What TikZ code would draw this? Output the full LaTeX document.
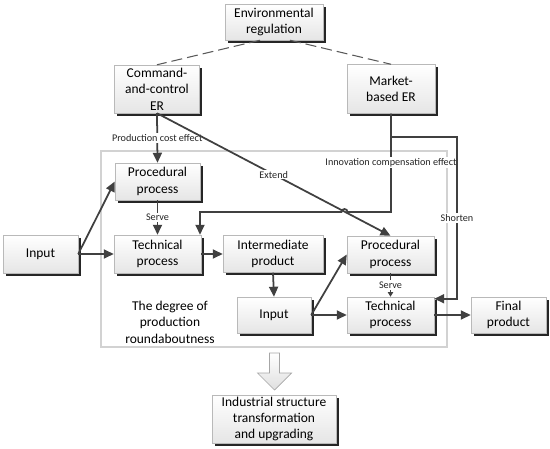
\documentclass[tikz,border=0pt]{standalone}
\usepackage{fontspec}
\setmainfont{Carlito}
\usepackage{tikz}
\usetikzlibrary{arrows.meta,shadows}

\tikzset{
  box/.style 2 args={draw=gray!55, top color=white, bottom color=gray!20,
    drop shadow={shadow xshift=0.08cm, shadow yshift=-0.08cm, fill=black!85, opacity=1},
    align=center, inner sep=1pt, font=\fontsize{11.5}{14}\selectfont,
    minimum width=#1*0.03cm, minimum height=#2*0.03cm},
  link/.style={draw=black!75, line width=1.5pt, -{Triangle[length=0.3cm,width=0.27cm]}},
  thinlink/.style={draw=black!75, line width=0.8pt, -{Triangle[length=0.14cm,width=0.16cm]}},
  dashlink/.style={draw=black!65, line width=0.9pt, dash pattern=on 0.33cm off 0.15cm},
  lbl/.style={fill=white, inner sep=1pt, text=black!85, font=\fontsize{8.7}{10}\selectfont}
}

\begin{document}
\begin{tikzpicture}[x=0.03cm,y=-0.03cm]
  \useasboundingbox (0,0) rectangle (550,449);
  % frame of the production chain
  \draw[gray!35, line width=1.2pt] (101,151) rectangle (447,347);

  \node[box={98}{36}] (env) at (274,22) {Environmental\\regulation};
  \node[box={85}{48}] (cac) at (157,89) {Command-\\and-control\\ER};
  \node[box={88}{49}] (mkt) at (391,89) {Market-\\based ER};
  \node[box={85}{37}] (proc1) at (157.5,181.5) {Procedural\\process};
  \node[box={87}{38}] (tech1) at (157.5,254) {Technical\\process};
  \node[box={75}{38}] (in1) at (40.5,254) {Input};
  \node[box={100}{37}] (inter) at (273,254) {Intermediate\\product};
  \node[box={74}{36}] (in2) at (274,315) {Input};
  \node[box={87}{37}] (proc2) at (390.5,254.5) {Procedural\\process};
  \node[box={87}{36}] (tech2) at (390.5,315) {Technical\\process};
  \node[box={75}{36}] (final) at (508.5,315) {Final\\product};
  \node[box={124}{48}] (ind) at (274,419) {Industrial structure\\transformation\\and upgrading};
  \node[align=center, font=\fontsize{11.5}{14}\selectfont] (deg) at (170,322)
    {The degree of\\production\\roundaboutness};

  \coordinate (sh) at (457,137);
  \coordinate (inn) at (200,212);
  \coordinate (t2in) at ([yshift=-0.06cm]tech2.north east);

  \draw[dashlink] ([xshift=-0.42cm]env.south) -- (cac.north);
  \draw[dashlink] ([xshift=0.48cm]env.south) -- (mkt.north);

  \draw[link] (cac.south) -- node[lbl]{Production cost effect} (proc1.north);
  \draw[link] (mkt.south) -- node[lbl]{Innovation compensation effect} (mkt.south |- inn)
    -- (347.5,212) arc[start angle=0, end angle=180, radius=0.09cm]
    -- (inn) -- (inn |- tech1.north);
  \draw[link] (cac.south) -- node[lbl]{Extend} (proc2.north);
  \draw[link] (mkt.south |- sh) -- (sh) -- node[lbl]{Shorten} (sh |- t2in) -- (t2in);

  \draw[link] (proc1.south) -- node[lbl]{Serve} (tech1.north);
  \draw[link] (in1.east) -- (proc1.west);
  \draw[link] (in1.east) -- (tech1.west);
  \draw[link] (tech1.east) -- (inter.west);
  \draw[link] (inter.south) -- (in2.north);
  \draw[link] (in2.east) -- (proc2.west);
  \draw[link] (in2.east) -- (tech2.west);
  \draw[thinlink] (proc2.south) -- node[lbl]{Serve} (tech2.north);
  \draw[link] (tech2.east) -- (final.west);

  % hollow arrow to the result
  \shadedraw[top color=white, bottom color=gray!25, draw=gray!70, line width=0.6pt]
    (269.5,353) -- (279.5,353) -- (279.5,373) -- (291.5,373) -- (274.5,390)
    -- (257.5,373) -- (269.5,373) -- cycle;
\end{tikzpicture}
\end{document}
